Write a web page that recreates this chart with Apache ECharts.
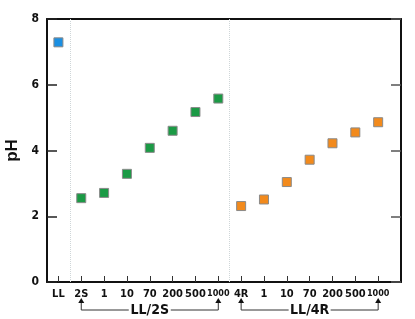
<!DOCTYPE html>
<html>
<head>
<meta charset="utf-8">
<script src="https://cdn.jsdelivr.net/npm/echarts@6/dist/echarts.min.js"></script>
<style>
  html, body { margin: 0; padding: 0; background: #fff; }
  #chart { width: 415px; height: 319px; }
</style>
</head>
<body>
<div id="chart"></div>
<script>
// categories along the x axis
var categories = ['LL', '2S', '1', '10', '70', '200', '500', '1000', '4R', '1', '10', '70', '200', '500', '1000'];
var yTicks = [0, 2, 4, 6, 8];
// pH values
var llValue = [7.29];
var ll2sValues = [2.55, 2.71, 3.29, 4.08, 4.60, 5.17, 5.58];
var ll4rValues = [2.31, 2.51, 3.04, 3.72, 4.22, 4.55, 4.86];
var groupLabels = ['LL/2S', 'LL/4R'];

var FONT = "'DejaVu Sans Condensed', 'Liberation Sans Narrow', 'Liberation Sans', Arial, sans-serif";

function toPoints(values, start) {
	var pts = [];
	for (var i = 0; i < values.length; i++) {
		pts.push([start + i, values[i]]);
	}
	return pts;
}

var tickIdx = [];
for (var i = 0; i < categories.length; i++) tickIdx.push(i);

var myChart = echarts.init(document.getElementById('chart'));

var markerStyle = function (color) {
	return {
		color: color,
		opacity: 1,
		borderColor: '#8a8a8a',
		borderWidth: 1
	};
};

myChart.setOption({
	animation: false,
	grid: { left: 47, right: 14, top: 19, bottom: 37, outerBoundsMode: 'none', containLabel: false },
	xAxis: [{
		type: 'value',
		min: -0.5,
		max: 15,
		splitLine: { show: false },
		axisLine: { onZero: false, lineStyle: { color: '#111', width: 2 } },
		axisTick: {
			inside: true, length: 6, customValues: tickIdx,
			lineStyle: { color: '#333', width: 1 }
		},
		axisLabel: {
			customValues: tickIdx,
			hideOverlap: false,
			showMinLabel: true,
			showMaxLabel: true,
			formatter: function (v) {
				var s = categories[Math.round(v)];
				// the long "1000" labels are squeezed in the original
				return s.length > 3 ? '{n|' + s + '}' : s;
			},
			rich: {
				n: { fontFamily: FONT, fontWeight: 'bold', fontSize: 9, color: '#111' }
			},
			color: '#111', fontFamily: FONT, fontWeight: 'bold', fontSize: 11, margin: 7
		}
	}, {
		type: 'value',
		position: 'top',
		min: -0.5,
		max: 15,
		splitLine: { show: false },
		axisLine: { show: true, onZero: false, lineStyle: { color: '#111', width: 2 } },
		axisTick: { show: false },
		axisLabel: { show: false }
	}],
	yAxis: [{
		type: 'value',
		min: 0,
		max: 8,
		interval: 2,
		name: 'pH',
		nameLocation: 'middle',
		nameRotate: 90,
		nameGap: 24,
		nameTextStyle: { fontFamily: 'Liberation Sans, Arial, sans-serif', fontWeight: 'bold', fontSize: 17, color: '#111' },
		splitLine: { show: false },
		axisLine: { show: true, onZero: false, lineStyle: { color: '#111', width: 2 } },
		axisTick: { show: true, inside: true, length: 10, lineStyle: { color: '#222', width: 1.5 } },
		axisLabel: {
			customValues: yTicks,
			color: '#111', fontFamily: FONT, fontWeight: 'bold', fontSize: 12, margin: 8
		}
	}, {
		type: 'value',
		position: 'right',
		min: 0,
		max: 8,
		interval: 2,
		splitLine: { show: false },
		axisLine: { show: true, onZero: false, lineStyle: { color: '#111', width: 2 } },
		axisTick: { show: true, inside: true, length: 10, lineStyle: { color: '#555', width: 1.5 } },
		axisLabel: { show: false }
	}],
	series: [{
		name: 'LL',
		type: 'scatter',
		symbol: 'rect',
		symbolSize: 9,
		itemStyle: markerStyle('#1b8fe2'),
		data: toPoints(llValue, 0),
		markLine: {
			silent: true,
			symbol: 'none',
			label: { show: false },
			lineStyle: { color: '#cfd6d8', type: 'dotted', width: 1 },
			data: [{ xAxis: 0.5 }, { xAxis: 7.5 }]
		}
	}, {
		name: 'LL/2S',
		type: 'scatter',
		symbol: 'rect',
		symbolSize: 9,
		itemStyle: markerStyle('#1b9a45'),
		data: toPoints(ll2sValues, 1)
	}, {
		name: 'LL/4R',
		type: 'scatter',
		symbol: 'rect',
		symbolSize: 9,
		itemStyle: markerStyle('#f28a1c'),
		data: toPoints(ll4rValues, 8)
	}]
});

// group brackets under the axis, placed from the axis scale
function bracket(startIdx, endIdx, label) {
	var a = myChart.convertToPixel({ xAxisIndex: 0, yAxisIndex: 0 }, [startIdx, 0]);
	var b = myChart.convertToPixel({ xAxisIndex: 0, yAxisIndex: 0 }, [endIdx, 0]);
	var tipY = a[1] + 16, lineY = a[1] + 28;
	var mid = (a[0] + b[0]) / 2;
	var half = 21;
	var ls = { stroke: '#333', lineWidth: 1 };
	var arrow = function (x) {
		return { type: 'polygon', shape: { points: [[x, tipY], [x - 3, tipY + 5], [x + 3, tipY + 5]] }, style: { fill: '#111' } };
	};
	return [
		{ type: 'polyline', shape: { points: [[a[0], tipY + 4], [a[0], lineY], [mid - half, lineY]] }, style: ls },
		{ type: 'polyline', shape: { points: [[mid + half, lineY], [b[0], lineY], [b[0], tipY + 4]] }, style: ls },
		arrow(a[0]),
		arrow(b[0]),
		{
			type: 'text', x: mid, y: lineY,
			style: {
				text: label, align: 'center', verticalAlign: 'middle',
				font: 'bold 14px ' + FONT, fill: '#111'
			}
		}
	];
}

myChart.setOption({
	graphic: bracket(1, 7, groupLabels[0]).concat(bracket(8, 14, groupLabels[1]))
});
</script>
</body>
</html>
